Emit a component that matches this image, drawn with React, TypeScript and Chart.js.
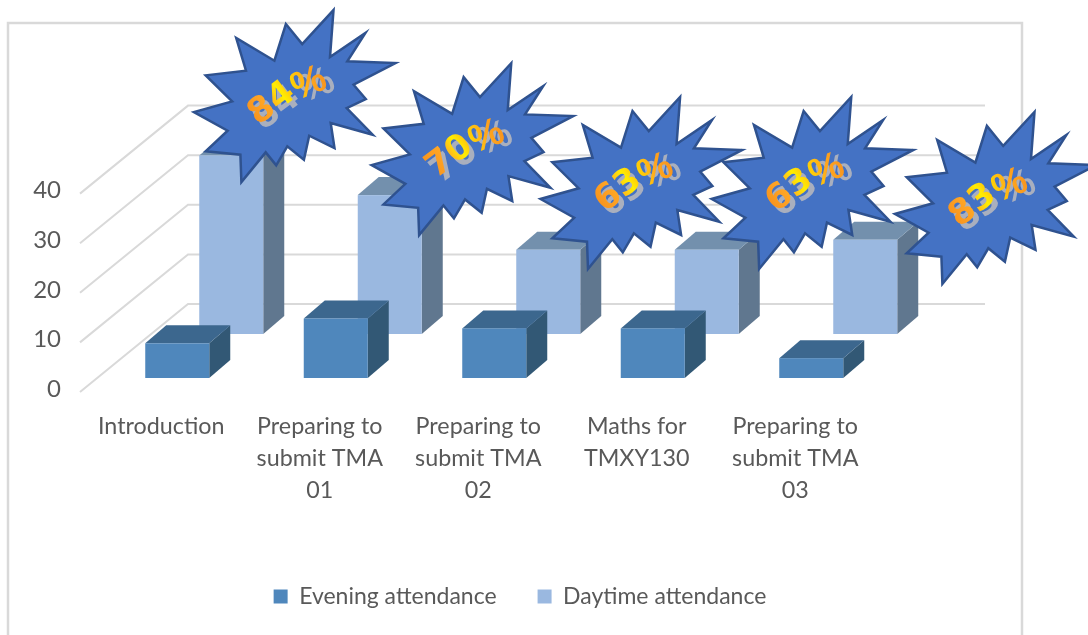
import React, { useEffect, useRef } from "react";
import { Chart, registerables } from "chart.js";

Chart.register(...registerables);

const categories = [
  "Introduction",
  ["Preparing to", "submit TMA", "01"],
  ["Preparing to", "submit TMA", "02"],
  ["Maths for", "TMXY130"],
  ["Preparing to", "submit TMA", "03"],
];
const eveningAttendance = [7, 12, 10, 10, 4];
const daytimeAttendance = [36, 28, 17, 17, 19];
const attendanceRates = [84, 70, 63, 63, 83];
const valueTicks = [0, 10, 20, 30, 40];

const FONT = "Lato, 'Noto Sans', sans-serif";
const TEXT = "#595959";
const GRID = "#d9d9d9";

// Oblique projection: each series sits on its own row of the floor.
const rows = [
  { dx: 16, dy: -11, top: "#3c678e", side: "#325875" },
  { dx: 70, dy: -55, top: "#7390ad", side: "#60778f" },
];
const BAR_DEPTH_X = 21;
const BAR_DEPTH_Y = 18;
const WALL_X = 188;
const WALL_END_X = 985;
const WALL_DY = -85;
const FRONT_X = 80;

// Burst outline, relative to its centre.
const burst = [
  [36.5, -77], [33, -30], [68.4, -54], [50.3, -25.7], [98.5, -24], [56.6, -2.3], [68.8, 12],
  [49.7, 21], [75.7, 47.7], [33.7, 36], [37.5, 61], [12.2, 48.7], [6.9, 72.7], [-9.7, 59.3],
  [-20.8, 78.3], [-31.3, 65.3], [-55.6, 95], [-56.6, 67.7], [-91.3, 64.3], [-69.4, 43.7],
  [-103.1, 25], [-64.9, 14.3], [-91.3, -11.7], [-51, -16.3], [-60.8, -49], [-22.6, -26.3],
  [-11.1, -63], [5.2, -43],
];
// Where each burst sits, measured from the top of that category's daytime bar.
const burstOffsets = [
  [135.75, -123.4], [155, -110], [165.35, -130.7], [178, -130.7], [202.75, -105.8],
];

// Paints one rotated word-art run: a flat grey shadow first, then the gradient fill.
function wordArt(ctx: any, text: string, x: number, y: number, angle: number, font: string, stops: [number, string][], half: number, sx: number, sy: number) {
  ctx.font = font;
  ctx.textAlign = "center";
  ctx.textBaseline = "middle";
  ctx.save();
  ctx.translate(x + sx, y + sy);
  ctx.rotate((angle * Math.PI) / 180);
  ctx.fillStyle = "#a9afbe";
  ctx.fillText(text, 0, 0);
  ctx.restore();
  ctx.save();
  ctx.translate(x, y);
  ctx.rotate((angle * Math.PI) / 180);
  const g = ctx.createLinearGradient(-half, 0, half, 0);
  stops.forEach(([p, c]) => g.addColorStop(p, c));
  ctx.fillStyle = g;
  ctx.fillText(text, 0, 0);
  ctx.restore();
}

const scenery = {
  id: "scenery",
  beforeDatasetsDraw(chart: any) {
    const { ctx, scales } = chart;
    ctx.save();
    ctx.strokeStyle = GRID;
    ctx.lineWidth = 2.5;
    ctx.beginPath();
    ctx.moveTo(8, 635);
    ctx.lineTo(8, 23);
    ctx.lineTo(1022, 23);
    ctx.lineTo(1022, 635);
    ctx.stroke();
    ctx.lineWidth = 2;
    for (const v of valueTicks) {
      const y = scales.y.getPixelForValue(v);
      ctx.beginPath();
      ctx.moveTo(FRONT_X, y + 3);
      ctx.lineTo(WALL_X, y + WALL_DY);
      ctx.lineTo(WALL_END_X, y + WALL_DY);
      ctx.stroke();
    }
    ctx.restore();
  },
  beforeDatasetDraw(chart: any, args: any) {
    const { ctx } = chart;
    const row = rows[args.index];
    const fill = chart.data.datasets[args.index].backgroundColor;
    for (const bar of args.meta.data) {
      const l = bar.x - bar.width / 2 + row.dx;
      const r = l + bar.width;
      const t = bar.y + row.dy;
      const b = bar.base + row.dy;
      ctx.fillStyle = row.side;
      ctx.beginPath();
      ctx.moveTo(r, t);
      ctx.lineTo(r + BAR_DEPTH_X, t - BAR_DEPTH_Y);
      ctx.lineTo(r + BAR_DEPTH_X, b - BAR_DEPTH_Y);
      ctx.lineTo(r, b);
      ctx.closePath();
      ctx.fill();
      ctx.fillStyle = row.top;
      ctx.beginPath();
      ctx.moveTo(l, t);
      ctx.lineTo(l + BAR_DEPTH_X, t - BAR_DEPTH_Y);
      ctx.lineTo(r + BAR_DEPTH_X, t - BAR_DEPTH_Y);
      ctx.lineTo(r, t);
      ctx.closePath();
      ctx.fill();
      ctx.fillStyle = fill;
      ctx.fillRect(l, t, bar.width, b - t);
    }
    return false;
  },
  afterDatasetsDraw(chart: any) {
    const { ctx } = chart;
    const bars = chart.getDatasetMeta(1).data;
    bars.forEach((bar: any, i: number) => {
      const cx = bar.x + burstOffsets[i][0];
      const cy = bar.y + burstOffsets[i][1];
      ctx.save();
      ctx.translate(cx, cy);
      ctx.beginPath();
      burst.forEach(([x, y], k) => (k ? ctx.lineTo(x, y) : ctx.moveTo(x, y)));
      ctx.closePath();
      ctx.fillStyle = "#4472c4";
      ctx.fill();
      ctx.strokeStyle = "#2f528f";
      ctx.lineWidth = 2.5;
      ctx.lineJoin = "miter";
      ctx.stroke();

      wordArt(
        ctx, String(attendanceRates[i]), -25, 17, -37,
        "bold 35px 'DejaVu Sans', sans-serif",
        [[0, "#f7931e"], [0.45, "#ffa726"], [0.78, "#ffee00"], [1, "#ffc20e"]],
        24, 5, 5,
      );
      wordArt(
        ctx, "%", 12, -3, -22,
        "bold 39px 'Liberation Sans', sans-serif",
        [[0, "#ffd700"], [0.5, "#ffa81e"], [1, "#f7931e"]],
        18, 8, 2,
      );
      ctx.restore();
    });
  },
};

export default function App() {
  const ref = useRef<HTMLCanvasElement>(null);
  useEffect(() => {
    const chart = new Chart(ref.current as HTMLCanvasElement, {
      type: "bar",
      data: {
        labels: categories as any,
        datasets: [
          { label: "Evening attendance", data: eveningAttendance, backgroundColor: "#4f87bc", borderWidth: 0, barThickness: 64, grouped: false } as any,
          { label: "Daytime attendance", data: daytimeAttendance, backgroundColor: "#9ab8e0", borderWidth: 0, barThickness: 64, grouped: false } as any,
        ],
      },
      options: {
        responsive: false,
        animation: false,
        layout: { padding: { top: 190.6, left: 0, right: 48, bottom: 17 } },
        plugins: {
          tooltip: { enabled: false },
          legend: {
            position: "bottom",
            labels: { boxWidth: 14, boxHeight: 14, padding: 41, color: TEXT, font: { family: FONT, size: 23 } },
          },
        },
        scales: {
          x: {
            grid: { display: false },
            border: { display: false },
            ticks: { autoSkip: false, maxRotation: 0, padding: 13, color: TEXT, font: { family: FONT, size: 23.3, lineHeight: 1.38 } },
            afterFit: (s: any) => { s.height = 155; },
          },
          y: {
            min: 0,
            max: 40,
            grid: { display: false, drawTicks: false },
            border: { display: false },
            ticks: { stepSize: 10, padding: 21, color: TEXT, font: { family: FONT, size: 24 } },
            afterFit: (s: any) => { s.width = 82; },
          },
          rightMargin: {
            position: "right",
            display: true,
            grid: { display: false, drawTicks: false },
            border: { display: false },
            ticks: { display: false },
            afterFit: (s: any) => { s.width = 165.5; },
          },
        },
      } as any,
      plugins: [scenery],
    });
    return () => chart.destroy();
  }, []);
  return (
    <div style={{ position: "absolute", left: 0, top: 0 }}>
      <canvas ref={ref} width={1088} height={635} style={{ display: "block" }} />
    </div>
  );
}
